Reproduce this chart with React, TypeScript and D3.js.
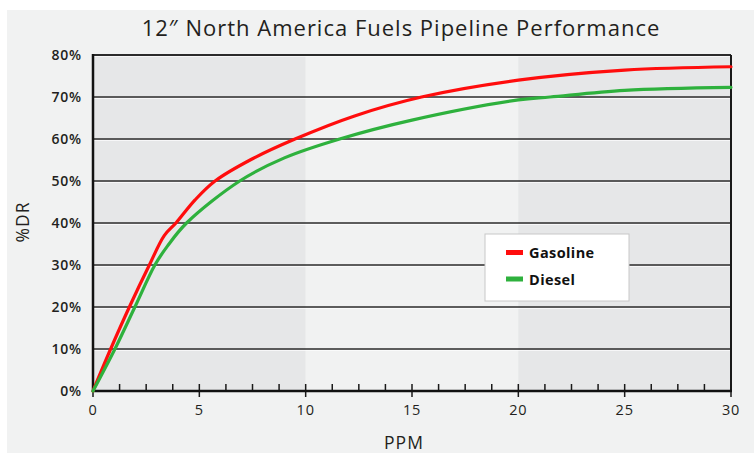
import React from "react";
import * as d3 from "d3";

const title = "12\u2033 North America Fuels Pipeline Performance";
const yTicks = [0, 10, 20, 30, 40, 50, 60, 70, 80];
const xTicks = [0, 5, 10, 15, 20, 25, 30];
const minorStep = 1.25;
const bands = [
  { from: 0, to: 10, fill: "#e6e7e8" },
  { from: 10, to: 20, fill: "#f1f2f2" },
  { from: 20, to: 30, fill: "#e6e7e8" },
];

const gasolinePPM = [0, 0.83, 1.71, 2.65, 3.35, 3.9, 4.8, 5.74, 7.5, 9.5, 12.3, 15.45, 20, 25, 30];
const gasolineDR = [0, 10, 20, 30, 37, 40, 45.5, 50, 55.3, 60, 65.5, 70, 74, 76.4, 77.2];
const dieselPPM = [0, 1.03, 1.97, 2.91, 3.5, 4.4, 6.9, 9, 11.6, 15, 20, 21.5, 25, 30];
const dieselDR = [0, 10, 20, 30, 34.5, 40, 50, 55.5, 60, 64.5, 69.3, 70, 71.6, 72.3];

const series = [
  { name: "Gasoline", color: "#ff0d0d", x: gasolinePPM, y: gasolineDR },
  { name: "Diesel", color: "#2eb13d", x: dieselPPM, y: dieselDR },
];

export default function App() {
  const W = 754, H = 453;
  const x = d3.scaleLinear().domain([0, 30]).range([93, 731]);
  const y = d3.scaleLinear().domain([0, 80]).range([391, 55]);
  const minor = d3.range(0, 30 + 1e-9, minorStep);
  const line = d3
    .line<[number, number]>()
    .x((d) => x(d[0]))
    .y((d) => y(d[1]))
    .curve(d3.curveCatmullRom.alpha(0.5));
  const font = "'Open Sans', 'Noto Sans', sans-serif";
  return (
    <svg
      width={W}
      height={H}
      style={{ position: "absolute", left: 0, top: 0, background: "#fff" }}
      fontFamily={font}
    >
      <rect x={7} y={10} width={W - 7} height={H - 10} fill="#f1f2f2" />
      <text x={401} y={36} textAnchor="middle" fontSize={22} fill="#231f20" fontWeight={400} letterSpacing={1}>
        {title}
      </text>
      {bands.map((b, i) => (
        <rect key={i} x={x(b.from)} y={y(80)} width={x(b.to) - x(b.from)} height={y(0) - y(80)} fill={b.fill} />
      ))}
      {yTicks.slice(1).map((t) => (
        <g key={t}>
          <line x1={x(0)} x2={x(30)} y1={y(t) + 1.5} y2={y(t) + 1.5} stroke="#ffffff" strokeWidth={1} opacity={0.7} />
          <line x1={x(0)} x2={x(30)} y1={y(t)} y2={y(t)} stroke="#2b2b2b" strokeWidth={t === 80 ? 2 : 1.6} />
        </g>
      ))}
      <line x1={x(30)} x2={x(30)} y1={y(80)} y2={y(0)} stroke="#1a1a1a" strokeWidth={2} />
      {minor.map((t, i) => {
        const major = i % 4 === 0;
        return (
          <line key={i} x1={x(t)} x2={x(t)} y1={y(0) - 7} y2={y(0) + (major ? 6 : 0)} stroke="#1a1a1a" strokeWidth={1.5} />
        );
      })}
      <line x1={x(0)} x2={x(0)} y1={y(80) - 1} y2={y(0) + 1} stroke="#111" strokeWidth={2.5} />
      <line x1={x(0) - 1} x2={x(30) + 1} y1={y(0)} y2={y(0)} stroke="#111" strokeWidth={2.5} />
      {yTicks.map((t) => (
        <text key={t} x={82} y={y(t) + 5} textAnchor="end" fontSize={14} fontWeight={600} fill="#231f20" letterSpacing={0.8}>
          {t}%
        </text>
      ))}
      {xTicks.map((t) => (
        <text key={t} x={x(t)} y={415} textAnchor="middle" fontSize={14.5} fill="#231f20" letterSpacing={0.8}>
          {t}
        </text>
      ))}
      <text x={404} y={449} textAnchor="middle" fontSize={17.5} fill="#231f20" letterSpacing={1}>PPM</text>
      <text transform={`translate(29,222) rotate(-90)`} textAnchor="middle" fontSize={17.5} fill="#231f20" letterSpacing={1}>%DR</text>
      {series.map((s) => (
        <path
          key={s.name}
          d={line(s.x.map((v, i) => [v, s.y[i]] as [number, number])) || ""}
          fill="none"
          stroke={s.color}
          strokeWidth={3.2}
          strokeLinecap="round"
        />
      ))}
      <rect x={485} y={234} width={144} height={67} fill="#ffffff" stroke="#c8c8c8" strokeWidth={1} />
      {series.map((s, i) => (
        <g key={s.name}>
          <rect x={506} y={250 + i * 26.5} width={17} height={5} fill={s.color} />
          <text x={529} y={258 + i * 26.5} fontSize={14.5} fontWeight={700} fill="#111" letterSpacing={0.4}>
            {s.name}
          </text>
        </g>
      ))}
    </svg>
  );
}
